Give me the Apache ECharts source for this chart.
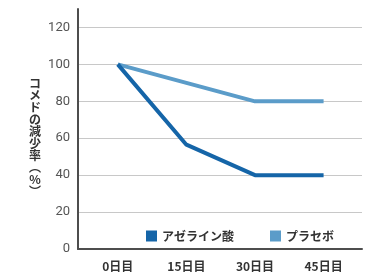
<!DOCTYPE html>
<html lang="ja">
<head>
    <meta charset="UTF-8">
    <title>コメドの減少率</title>
    <script src="https://cdn.jsdelivr.net/npm/echarts@6/dist/echarts.min.js"></script>
    <style>
        html, body { margin: 0; padding: 0; background: #fff; }
    </style>
</head>
<body>
    <div id="main" style="width:382px;height:275px;"></div>

    <script>
    // データ
    var days = ['0日目', '15日目', '30日目', '45日目'];
    var azelaic = [100, 56.5, 40, 40];   // アゼライン酸
    var placebo = [100, 90, 80, 80];     // プラセボ
    var seriesNames = ['アゼライン酸', 'プラセボ'];
    var yTitle = ['コ', 'メ', 'ド', 'の', '減', '少', '率', '︵', '%', '︶'];

    var jpFont = '"Noto Sans CJK JP", "Noto Sans", sans-serif';

    // x軸は位置(0,1,2,3)で置き、ラベルを日数に差し替える
    function toPoints(values) {
        return values.map(function (v, i) { return [i, v]; });
    }
    var dayIndex = days.map(function (d, i) { return i; });

    var myChart = echarts.init(document.getElementById('main'));
    myChart.setOption({
        animation: false,
        // 縦書きの軸タイトル
        title: {
            text: yTitle.join('\n'),
            left: 35,
            top: 77,
            padding: 0,
            textAlign: 'center',
            textStyle: { fontFamily: jpFont, fontSize: 12, fontWeight: 'bold', color: '#333', lineHeight: 12 }
        },
        grid: { left: 78, right: 20, top: 9, bottom: 26 },
        legend: {
            left: 141,
            top: 225,
            icon: 'rect',
            itemWidth: 11,
            itemHeight: 11,
            itemGap: 36,
            textStyle: { fontFamily: jpFont, fontSize: 12, fontWeight: 'bold', color: '#333' },
            data: seriesNames
        },
        xAxis: {
            type: 'value',
            min: -0.58,
            max: 3.56,
            splitLine: { show: false },
            axisLine: { onZero: false, lineStyle: { color: '#4d4d4d', width: 2 } },
            axisTick: { show: false },
            axisLabel: {
                customValues: dayIndex,
                margin: 11,
                formatter: function (v) { return days[Math.round(v)]; },
                fontFamily: jpFont, fontSize: 12, fontWeight: 'bold', color: '#333'
            }
        },
        yAxis: {
            type: 'value',
            min: 0,
            max: 130,
            interval: 20,
            axisLine: { show: true, onZero: false, lineStyle: { color: '#4d4d4d', width: 2 } },
            axisTick: { show: false },
            axisLabel: { margin: 8, showMaxLabel: false, fontFamily: 'Roboto, sans-serif', fontSize: 13, color: '#555' },
            splitLine: { showMaxLine: false, lineStyle: { color: '#c8c8c8', width: 1 } }
        },
        series: [
            {
                name: seriesNames[0],
                type: 'line',
                data: toPoints(azelaic),
                symbol: 'none',
                color: '#1565a8',
                lineStyle: { width: 4, color: '#1565a8' },
                z: 3
            },
            {
                name: seriesNames[1],
                type: 'line',
                data: toPoints(placebo),
                symbol: 'none',
                color: '#5b9cc9',
                lineStyle: { width: 4, color: '#5b9cc9' },
                z: 2
            }
        ]
    });
    </script>
</body>
</html>
